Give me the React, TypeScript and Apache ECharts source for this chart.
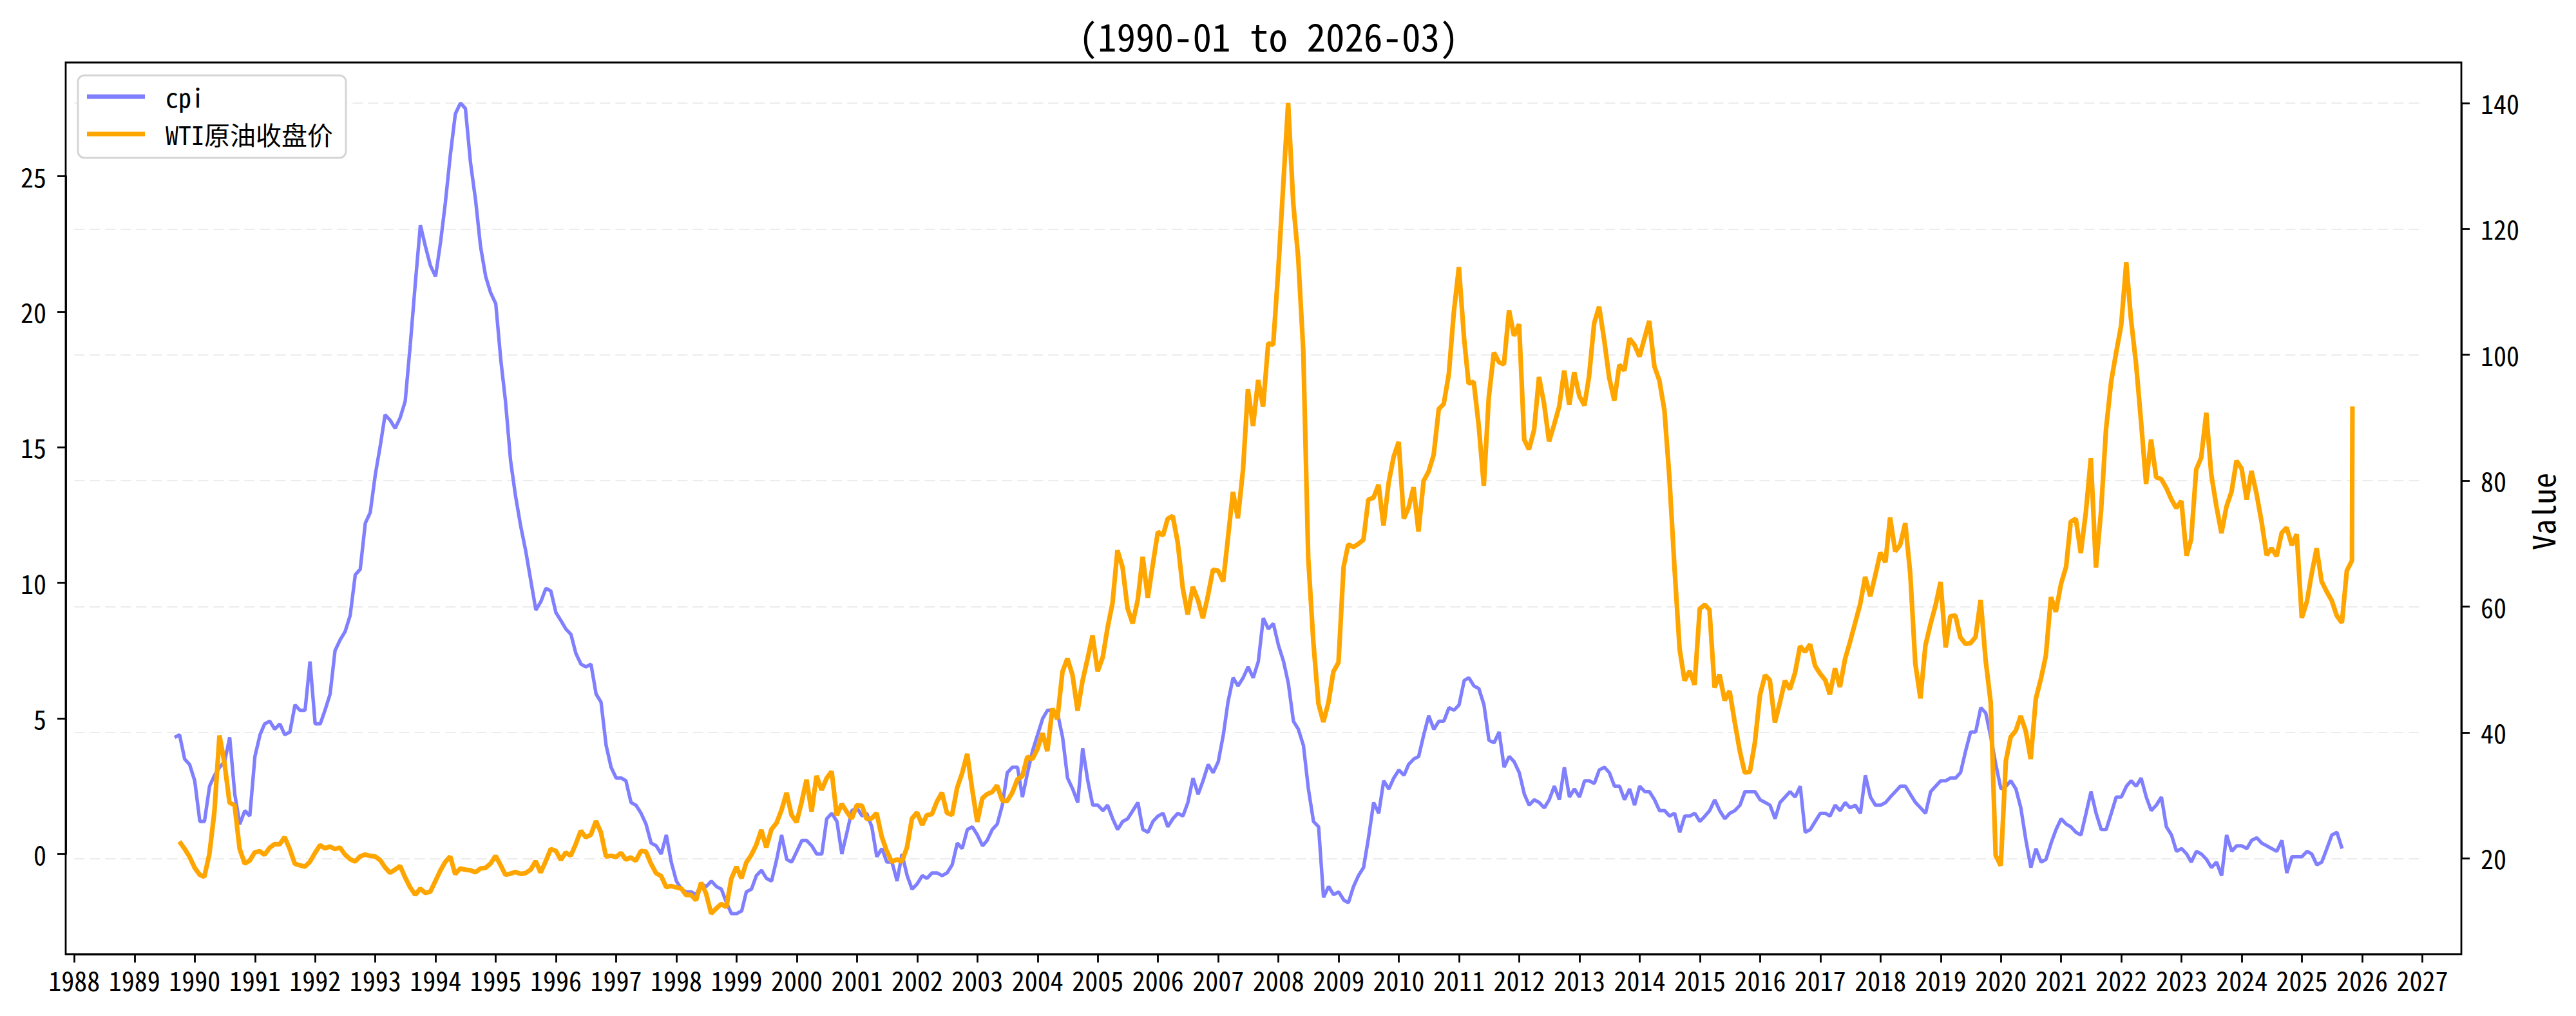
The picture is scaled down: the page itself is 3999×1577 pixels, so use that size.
import React, { useEffect, useRef } from "react";
import * as echarts from "echarts";

// ---------------- data ----------------
const TITLE = "(1990-01 to 2026-03)";
const CPI_NAME = "cpi";
const OIL_NAME = "WTI原油收盘价";
const RIGHT_AXIS_NAME = "Value";

// China CPI, year-on-year %, monthly from 1990-01
const CPI_FIRST_MONTH = [1990, 1];
const cpiValues = [
  4.3, 4.4, 3.5, 3.3, 2.7, 1.2, 1.2, 2.5, 2.9, 3.2, 3.4, 4.3,
  2.2, 1.1, 1.6, 1.4, 3.6, 4.4, 4.8, 4.9, 4.6, 4.8, 4.4, 4.5,
  5.5, 5.3, 5.3, 7.1, 4.8, 4.8, 5.3, 5.9, 7.5, 7.9, 8.2, 8.8,
  10.3, 10.5, 12.2, 12.6, 14.0, 15.1, 16.2, 16.0, 15.7, 16.1, 16.7, 18.8,
  21.1, 23.2, 22.4, 21.7, 21.3, 22.6, 24.0, 25.8, 27.3, 27.7, 27.5, 25.5,
  24.1, 22.4, 21.3, 20.7, 20.3, 18.2, 16.7, 14.5, 13.2, 12.1, 11.2, 10.1,
  9.0, 9.3, 9.8, 9.7, 8.9, 8.6, 8.3, 8.1, 7.4, 7.0, 6.9, 7.0,
  5.9, 5.6, 4.0, 3.2, 2.8, 2.8, 2.7, 1.9, 1.8, 1.5, 1.1, 0.4,
  0.3, 0.0, 0.7, -0.3, -1.0, -1.3, -1.4, -1.4, -1.5, -1.1, -1.2, -1.0,
  -1.2, -1.3, -1.8, -2.2, -2.2, -2.1, -1.4, -1.3, -0.8, -0.6, -0.9, -1.0,
  -0.2, 0.7, -0.2, -0.3, 0.1, 0.5, 0.5, 0.3, 0.0, 0.0, 1.3, 1.5,
  1.2, 0.0, 0.8, 1.6, 1.7, 1.4, 1.5, 1.0, -0.1, 0.2, -0.3, -0.3,
  -1.0, 0.0, -0.8, -1.3, -1.1, -0.8, -0.9, -0.7, -0.7, -0.8, -0.7, -0.4,
  0.4, 0.2, 0.9, 1.0, 0.7, 0.3, 0.5, 0.9, 1.1, 1.8, 3.0, 3.2,
  3.2, 2.1, 3.0, 3.8, 4.4, 5.0, 5.3, 5.3, 5.2, 4.3, 2.8, 2.4,
  1.9, 3.9, 2.7, 1.8, 1.8, 1.6, 1.8, 1.3, 0.9, 1.2, 1.3, 1.6,
  1.9, 0.9, 0.8, 1.2, 1.4, 1.5, 1.0, 1.3, 1.5, 1.4, 1.9, 2.8,
  2.2, 2.7, 3.3, 3.0, 3.4, 4.4, 5.6, 6.5, 6.2, 6.5, 6.9, 6.5,
  7.1, 8.7, 8.3, 8.5, 7.7, 7.1, 6.3, 4.9, 4.6, 4.0, 2.4, 1.2,
  1.0, -1.6, -1.2, -1.5, -1.4, -1.7, -1.8, -1.2, -0.8, -0.5, 0.6, 1.9,
  1.5, 2.7, 2.4, 2.8, 3.1, 2.9, 3.3, 3.5, 3.6, 4.4, 5.1, 4.6,
  4.9, 4.9, 5.4, 5.3, 5.5, 6.4, 6.5, 6.2, 6.1, 5.5, 4.2, 4.1,
  4.5, 3.2, 3.6, 3.4, 3.0, 2.2, 1.8, 2.0, 1.9, 1.7, 2.0, 2.5,
  2.0, 3.2, 2.1, 2.4, 2.1, 2.7, 2.7, 2.6, 3.1, 3.2, 3.0, 2.5,
  2.5, 2.0, 2.4, 1.8, 2.5, 2.3, 2.3, 2.0, 1.6, 1.6, 1.4, 1.5,
  0.8, 1.4, 1.4, 1.5, 1.2, 1.4, 1.6, 2.0, 1.6, 1.3, 1.5, 1.6,
  1.8, 2.3, 2.3, 2.3, 2.0, 1.9, 1.8, 1.3, 1.9, 2.1, 2.3, 2.1,
  2.5, 0.8, 0.9, 1.2, 1.5, 1.5, 1.4, 1.8, 1.6, 1.9, 1.7, 1.8,
  1.5, 2.9, 2.1, 1.8, 1.8, 1.9, 2.1, 2.3, 2.5, 2.5, 2.2, 1.9,
  1.7, 1.5, 2.3, 2.5, 2.7, 2.7, 2.8, 2.8, 3.0, 3.8, 4.5, 4.5,
  5.4, 5.2, 4.3, 3.3, 2.4, 2.5, 2.7, 2.4, 1.7, 0.5, -0.5, 0.2,
  -0.3, -0.2, 0.4, 0.9, 1.3, 1.1, 1.0, 0.8, 0.7, 1.5, 2.3, 1.5,
  0.9, 0.9, 1.5, 2.1, 2.1, 2.5, 2.7, 2.5, 2.8, 2.1, 1.6, 1.8,
  2.1, 1.0, 0.7, 0.1, 0.2, 0.0, -0.3, 0.1, 0.0, -0.2, -0.5, -0.3,
  -0.8, 0.7, 0.1, 0.3, 0.3, 0.2, 0.5, 0.6, 0.4, 0.3, 0.2, 0.1,
  0.5, -0.7, -0.1, -0.1, -0.1, 0.1, 0.0, -0.4, -0.3, 0.2, 0.7, 0.8,
  0.2,
];

// WTI crude, month-end close (USD), monthly from 1990-01
const OIL_FIRST_MONTH = [1990, 1];
const oilValues = [
  22.68, 21.54, 20.28, 18.54, 17.40, 17.07, 20.69, 27.32, 39.51, 35.23, 28.85, 28.44,
  21.54, 19.16, 19.63, 20.96, 21.13, 20.56, 21.68, 22.26, 22.23, 23.37, 21.48, 19.12,
  18.90, 18.68, 19.44, 20.85, 22.11, 21.60, 21.87, 21.48, 21.71, 20.62, 19.89, 19.50,
  20.30, 20.60, 20.40, 20.30, 19.70, 18.60, 17.70, 18.20, 18.80, 17.00, 15.40, 14.20,
  15.20, 14.50, 14.70, 16.40, 18.10, 19.40, 20.30, 17.50, 18.40, 18.20, 18.10, 17.80,
  18.39, 18.49, 19.17, 20.38, 18.89, 17.40, 17.56, 17.84, 17.54, 17.64, 18.18, 19.55,
  17.74, 19.54, 21.47, 21.20, 19.76, 20.92, 20.42, 22.25, 24.38, 23.35, 23.75, 25.92,
  24.15, 20.30, 20.41, 20.21, 20.88, 19.80, 20.14, 19.61, 21.18, 21.08, 19.15, 17.64,
  17.21, 15.44, 15.61, 15.39, 15.20, 14.18, 14.21, 13.34, 16.14, 14.42, 11.22, 12.05,
  12.75, 12.27, 16.76, 18.66, 16.84, 19.29, 20.53, 22.11, 24.51, 21.75, 24.59, 25.60,
  27.64, 30.43, 26.90, 25.74, 29.01, 32.50, 27.43, 33.12, 30.84, 32.70, 33.82, 26.80,
  28.66, 27.39, 26.29, 28.46, 28.37, 26.25, 26.35, 27.20, 23.43, 21.18, 19.44, 19.84,
  19.48, 21.74, 26.31, 27.29, 25.31, 26.86, 27.02, 28.98, 30.45, 27.22, 26.89, 31.20,
  33.51, 36.60, 31.04, 25.80, 29.56, 30.19, 30.54, 31.57, 29.20, 29.11, 30.41, 32.52,
  33.05, 36.16, 35.76, 37.38, 39.88, 37.05, 43.80, 42.12, 49.64, 51.76, 49.13, 43.45,
  48.20, 51.75, 55.40, 49.72, 51.97, 56.50, 60.57, 68.94, 66.24, 59.76, 57.32, 61.04,
  67.92, 61.41, 66.63, 71.88, 71.29, 73.93, 74.40, 70.26, 62.91, 58.73, 63.13, 61.05,
  58.14, 61.79, 65.87, 65.71, 64.01, 70.68, 78.21, 74.04, 81.66, 94.53, 88.71, 95.98,
  91.75, 101.84, 101.58, 113.46, 127.35, 140.00, 124.08, 115.46, 100.64, 67.81, 54.43, 44.60,
  41.68, 44.76, 49.66, 51.12, 66.31, 69.89, 69.45, 69.96, 70.61, 77.00, 77.28, 79.36,
  72.89, 79.66, 83.76, 86.15, 73.97, 75.63, 78.95, 71.92, 79.97, 81.43, 84.11, 91.38,
  92.19, 96.97, 106.72, 113.93, 102.70, 95.42, 95.70, 88.81, 79.20, 93.19, 100.36, 98.83,
  98.48, 107.07, 103.02, 104.87, 86.53, 84.96, 88.06, 96.47, 92.19, 86.24, 88.91, 91.82,
  97.49, 92.05, 97.23, 93.46, 91.97, 96.56, 105.03, 107.65, 102.33, 96.38, 92.72, 98.42,
  97.49, 102.59, 101.58, 99.74, 102.71, 105.37, 98.17, 95.96, 91.16, 80.54, 66.15, 53.27,
  48.24, 49.76, 47.60, 59.63, 60.30, 59.47, 47.12, 49.20, 45.09, 46.59, 41.65, 37.04,
  33.62, 33.75, 38.34, 45.92, 49.10, 48.33, 41.60, 44.70, 48.24, 46.86, 49.44, 53.72,
  52.81, 54.01, 50.60, 49.33, 48.32, 46.04, 50.17, 47.23, 51.67, 54.38, 57.40, 60.42,
  64.73, 61.64, 64.94, 68.57, 67.04, 74.15, 68.76, 69.80, 73.25, 65.31, 50.93, 45.41,
  53.79, 57.22, 60.14, 63.91, 53.50, 58.47, 58.58, 55.10, 54.07, 54.18, 55.17, 61.06,
  51.56, 44.76, 20.48, 18.84, 35.49, 39.27, 40.27, 42.61, 40.22, 35.79, 45.34, 48.52,
  52.20, 61.50, 59.16, 63.58, 66.32, 73.47, 73.95, 68.50, 75.03, 83.57, 66.18, 75.21,
  88.15, 95.72, 100.28, 104.69, 114.67, 105.76, 98.62, 89.55, 79.49, 86.53, 80.55, 80.26,
  78.87, 77.05, 75.67, 76.78, 68.09, 70.64, 81.80, 83.63, 90.79, 81.02, 75.96, 71.65,
  75.85, 78.26, 83.17, 81.93, 76.99, 81.54, 77.91, 73.55, 68.17, 69.26, 68.00, 71.72,
  72.53, 69.76, 71.48, 58.21, 60.79, 65.11, 69.26, 64.01, 62.37, 60.98, 58.55, 57.42,
  65.70, 67.30,
];
// the latest (partial-month) oil close
const OIL_LATEST_DATE = [2026, 3, 3];
const OIL_LATEST_VALUE = 91.8;

// in the picture each point sits 4 months before its label
const X_LAG_MONTHS = 4;

const YEAR_TICK_FIRST = 1988;
const YEAR_TICK_LAST = 2027;
const LEFT_TICKS = { min: 0, max: 25, step: 5 };
const RIGHT_TICKS = { min: 20, max: 140, step: 20 };

// ---------------- layout / style ----------------
const W = 3999;
const H = 1577;
const FRAME = { left: 102, top: 97, right: 3821, bottom: 1481 };
const FONT = "'Noto Sans Mono CJK SC', 'DejaVu Sans Mono', monospace";
const CPI_COLOR = "#8080ff";
const OIL_COLOR = "#ffa500";

function decYear(t: number): number {
  const d = new Date(t);
  const y = d.getUTCFullYear();
  const s = Date.UTC(y, 0, 1);
  const e = Date.UTC(y + 1, 0, 1);
  return y + (t - s) / (e - s);
}

function buildData() {
  const cpi = cpiValues.map((v, i) => [
    decYear(Date.UTC(CPI_FIRST_MONTH[0], CPI_FIRST_MONTH[1] - 1 + i - X_LAG_MONTHS, 1)),
    v,
  ]);
  const oil = oilValues.map((v, i) => [
    // month-end date
    decYear(Date.UTC(OIL_FIRST_MONTH[0], OIL_FIRST_MONTH[1] - 1 + i - X_LAG_MONTHS + 1, 0)),
    v,
  ]);
  oil.push([
    decYear(Date.UTC(OIL_LATEST_DATE[0], OIL_LATEST_DATE[1] - 1 - X_LAG_MONTHS, OIL_LATEST_DATE[2])),
    OIL_LATEST_VALUE,
  ]);
  return { cpi, oil };
}

function padded(vals: number[]) {
  const lo = Math.min(...vals);
  const hi = Math.max(...vals);
  const m = (hi - lo) * 0.05;
  return [lo - m, hi + m];
}

export default function App() {
  const ref = useRef<HTMLDivElement>(null);

  useEffect(() => {
    document.body.style.margin = "0";
    document.body.style.overflow = "hidden";
    if (!ref.current) return;
    const chart = echarts.init(ref.current, undefined, { renderer: "svg" });

    const { cpi, oil } = buildData();
    const fw = FRAME.right - FRAME.left;
    const fh = FRAME.bottom - FRAME.top;

    const [xlo, xhi] = padded([...cpi.map((p) => p[0]), ...oil.map((p) => p[0])]);
    const xPix = (x: number) => FRAME.left + ((x - xlo) / (xhi - xlo)) * fw;
    const [llo, lhi] = padded(cpiValues);
    const yL = (v: number) => FRAME.bottom - ((v - llo) / (lhi - llo)) * fh;
    const [rlo, rhi] = padded(oil.map((p) => p[1]));
    const yR = (v: number) => FRAME.bottom - ((v - rlo) / (rhi - rlo)) * fh;

    const gl = xPix(YEAR_TICK_FIRST);
    const gr = xPix(YEAR_TICK_LAST);

    const lineStyle = { color: "#000", width: 2.8 };
    const axisLine = { show: true, onZero: false, lineStyle };
    const tickStyle = { show: true, inside: false, length: 13, lineStyle };
    const labelStyle = { color: "#000", fontSize: 40, fontFamily: FONT };

    chart.setOption({
      animation: false,
      backgroundColor: "#ffffff",
      title: {
        text: TITLE,
        left: (FRAME.left + FRAME.right) / 2 + 3,
        top: 20,
        textAlign: "center",
        textStyle: { color: "#000", fontSize: 59, fontWeight: "normal", fontFamily: FONT },
      },
      legend: {
        orient: "vertical",
        left: 121,
        top: 117,
        itemWidth: 90,
        itemHeight: 7,
        itemGap: 18,
        padding: [13, 20, 17, 14],
        backgroundColor: "#ffffff",
        borderColor: "#d5d5d5",
        borderWidth: 3,
        borderRadius: 10,
        textStyle: { color: "#000", fontSize: 40, fontFamily: FONT, padding: [0, 0, 0, 27] },
        data: [
          { name: CPI_NAME, icon: "rect" },
          { name: OIL_NAME, icon: "rect" },
        ],
      },
      grid: [
        {
          left: gl,
          width: gr - gl,
          top: yL(LEFT_TICKS.max),
          height: yL(LEFT_TICKS.min) - yL(LEFT_TICKS.max),
          containLabel: false,
          outerBoundsMode: "none",
        },
        {
          left: gl,
          width: gr - gl,
          top: yR(RIGHT_TICKS.max),
          height: yR(RIGHT_TICKS.min) - yR(RIGHT_TICKS.max),
          containLabel: false,
          outerBoundsMode: "none",
        },
      ],
      xAxis: [
        {
          type: "value",
          gridIndex: 0,
          min: YEAR_TICK_FIRST,
          max: YEAR_TICK_LAST,
          interval: 1,
          position: "bottom",
          offset: FRAME.bottom - yL(LEFT_TICKS.min),
          axisLine,
          axisTick: tickStyle,
          axisLabel: { ...labelStyle, margin: 20, formatter: (v: number) => String(v) },
          splitLine: { show: false },
        },
        {
          type: "value",
          gridIndex: 1,
          min: YEAR_TICK_FIRST,
          max: YEAR_TICK_LAST,
          interval: 1,
          show: false,
          splitLine: { show: false },
        },
      ],
      yAxis: [
        {
          type: "value",
          gridIndex: 0,
          position: "left",
          min: LEFT_TICKS.min,
          max: LEFT_TICKS.max,
          interval: LEFT_TICKS.step,
          offset: gl - FRAME.left,
          axisLine,
          axisTick: tickStyle,
          axisLabel: { ...labelStyle, margin: 30 },
          splitLine: { show: false },
        },
        {
          type: "value",
          gridIndex: 1,
          position: "right",
          min: RIGHT_TICKS.min,
          max: RIGHT_TICKS.max,
          interval: RIGHT_TICKS.step,
          offset: FRAME.right - gr,
          axisLine,
          axisTick: tickStyle,
          axisLabel: { ...labelStyle, margin: 30 },
          splitLine: { show: true, lineStyle: { color: "#ececec", width: 2, type: [16, 8] } },
        },
      ],
      series: [
        {
          name: CPI_NAME,
          type: "line",
          xAxisIndex: 0,
          yAxisIndex: 0,
          data: cpi,
          showSymbol: false,
          symbol: "none",
          clip: false,
          z: 2,
          lineStyle: { color: CPI_COLOR, width: 5.4 },
          itemStyle: { color: CPI_COLOR },
        },
        {
          name: OIL_NAME,
          type: "line",
          xAxisIndex: 1,
          yAxisIndex: 1,
          data: oil,
          showSymbol: false,
          symbol: "none",
          clip: false,
          z: 3,
          lineStyle: { color: OIL_COLOR, width: 7.2 },
          itemStyle: { color: OIL_COLOR },
        },
      ],
      graphic: [
        {
          type: "rect",
          z: 100,
          silent: true,
          shape: { x: FRAME.left, y: FRAME.top, width: fw, height: fh },
          style: { fill: "none", stroke: "#000", lineWidth: 2.8 },
        },
        {
          type: "text",
          z: 100,
          x: 3946,
          y: (FRAME.top + FRAME.bottom) / 2 + 5,
          rotation: Math.PI / 2,
          style: {
            text: RIGHT_AXIS_NAME,
            fill: "#000",
            fontSize: 48,
            fontFamily: FONT,
            align: "center",
            verticalAlign: "middle",
          },
        },
      ],
    });

    return () => chart.dispose();
  }, []);

  return <div ref={ref} style={{ width: W, height: H }} />;
}
